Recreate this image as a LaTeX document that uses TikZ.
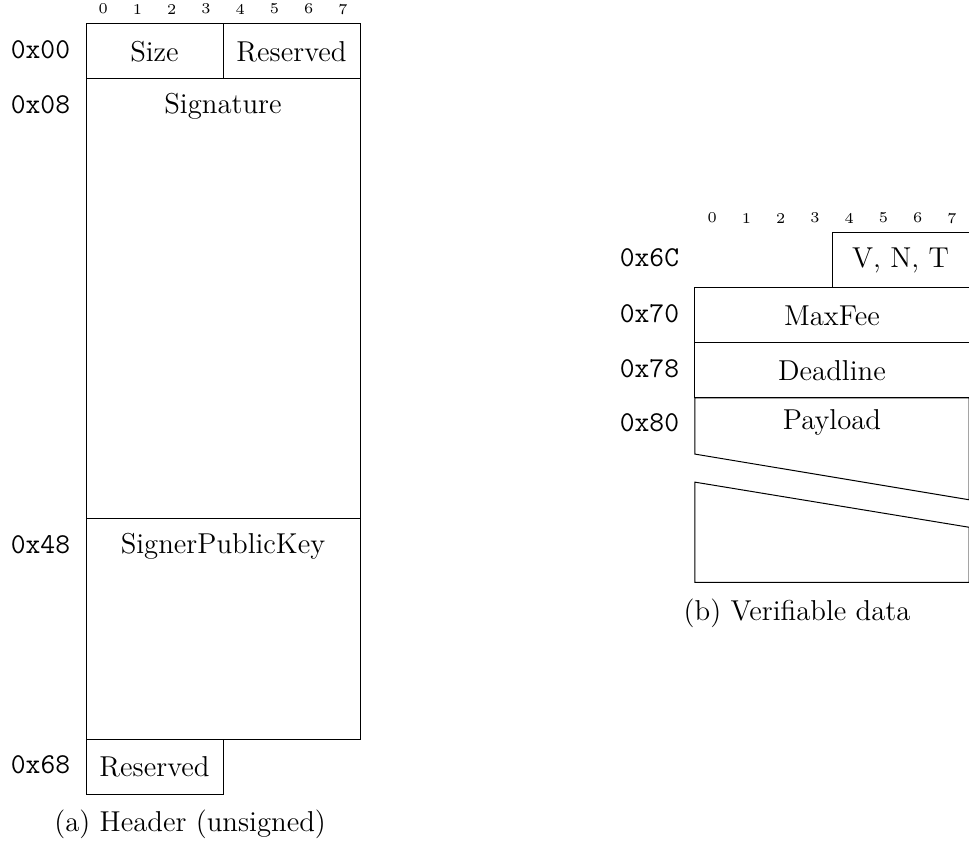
\documentclass[tikz,border=0pt]{standalone}
\begin{document}
\begin{tikzpicture}[x=13.7pt, y=-22pt, font=\fontsize{11.5}{14}\selectfont]
  \tikzstyle{bytenum}=[font=\fontsize{6}{7}\selectfont, inner sep=0pt]
  \tikzstyle{offset}=[font=\fontsize{11.5}{14}\selectfont\ttfamily, anchor=east, inner sep=0pt]
  \tikzstyle{caption}=[inner sep=0pt]
  \useasboundingbox (-2.511,-0.436) rectangle (25.78,14.89);
  % header (unsigned)
  \foreach \i in {0,...,7}
    \node[bytenum] (ha\i) at (\i+0.5,-0.27) {\i};
  \draw (0,0) rectangle (4,1);
  \draw (4,0) rectangle (8,1);
  \draw (0,1) rectangle (8,9);
  \draw (0,9) rectangle (8,13);
  \draw (0,13) rectangle (4,14);
  \node[offset] (oa00) at (-0.45,0.47) {0x00};
  \node[offset] (oa08) at (-0.45,1.47) {0x08};
  \node[offset] (oa48) at (-0.45,9.47) {0x48};
  \node[offset] (oa68) at (-0.45,13.47) {0x68};
  \node (size) at (2,0.5) {Size};
  \node (resa) at (6,0.5) {Reserved};
  \node (sig) at (4,1.5) {Signature};
  \node (spk) at (4,9.5) {SignerPublicKey};
  \node (resb) at (2,13.5) {Reserved};
  \node[caption] (capa) at (3.04,14.56) {(a) Header (unsigned)};
  % verifiable data
  \begin{scope}[shift={(17.78,3.8)}]
    \foreach \i in {0,...,7}
      \node[bytenum] (hb\i) at (\i+0.5,-0.27) {\i};
    \draw (4,0) rectangle (8,1);
    \draw (0,1) rectangle (8,2);
    \draw (0,2) rectangle (8,3);
    \draw (8,3) -- (0,3) -- (0,4.02) -- (8,4.85) -- cycle;
    \draw (8,5.35) -- (0,4.53) -- (0,6.35) -- (8,6.35) -- cycle;
    \node[offset] (ob6c) at (-0.45,0.45) {0x6C};
    \node[offset] (ob70) at (-0.45,1.47) {0x70};
    \node[offset] (ob78) at (-0.45,2.47) {0x78};
    \node[offset] (ob80) at (-0.45,3.45) {0x80};
    \node (vnt) at (6,0.5) {V, N, T};
    \node (maxfee) at (4,1.5) {MaxFee};
    \node (deadline) at (4,2.5) {Deadline};
    \node (payload) at (4,3.45) {Payload};
    \node[caption] (capb) at (2.98,6.91) {(b) Verifiable data};
  \end{scope}
\end{tikzpicture}
\end{document}
